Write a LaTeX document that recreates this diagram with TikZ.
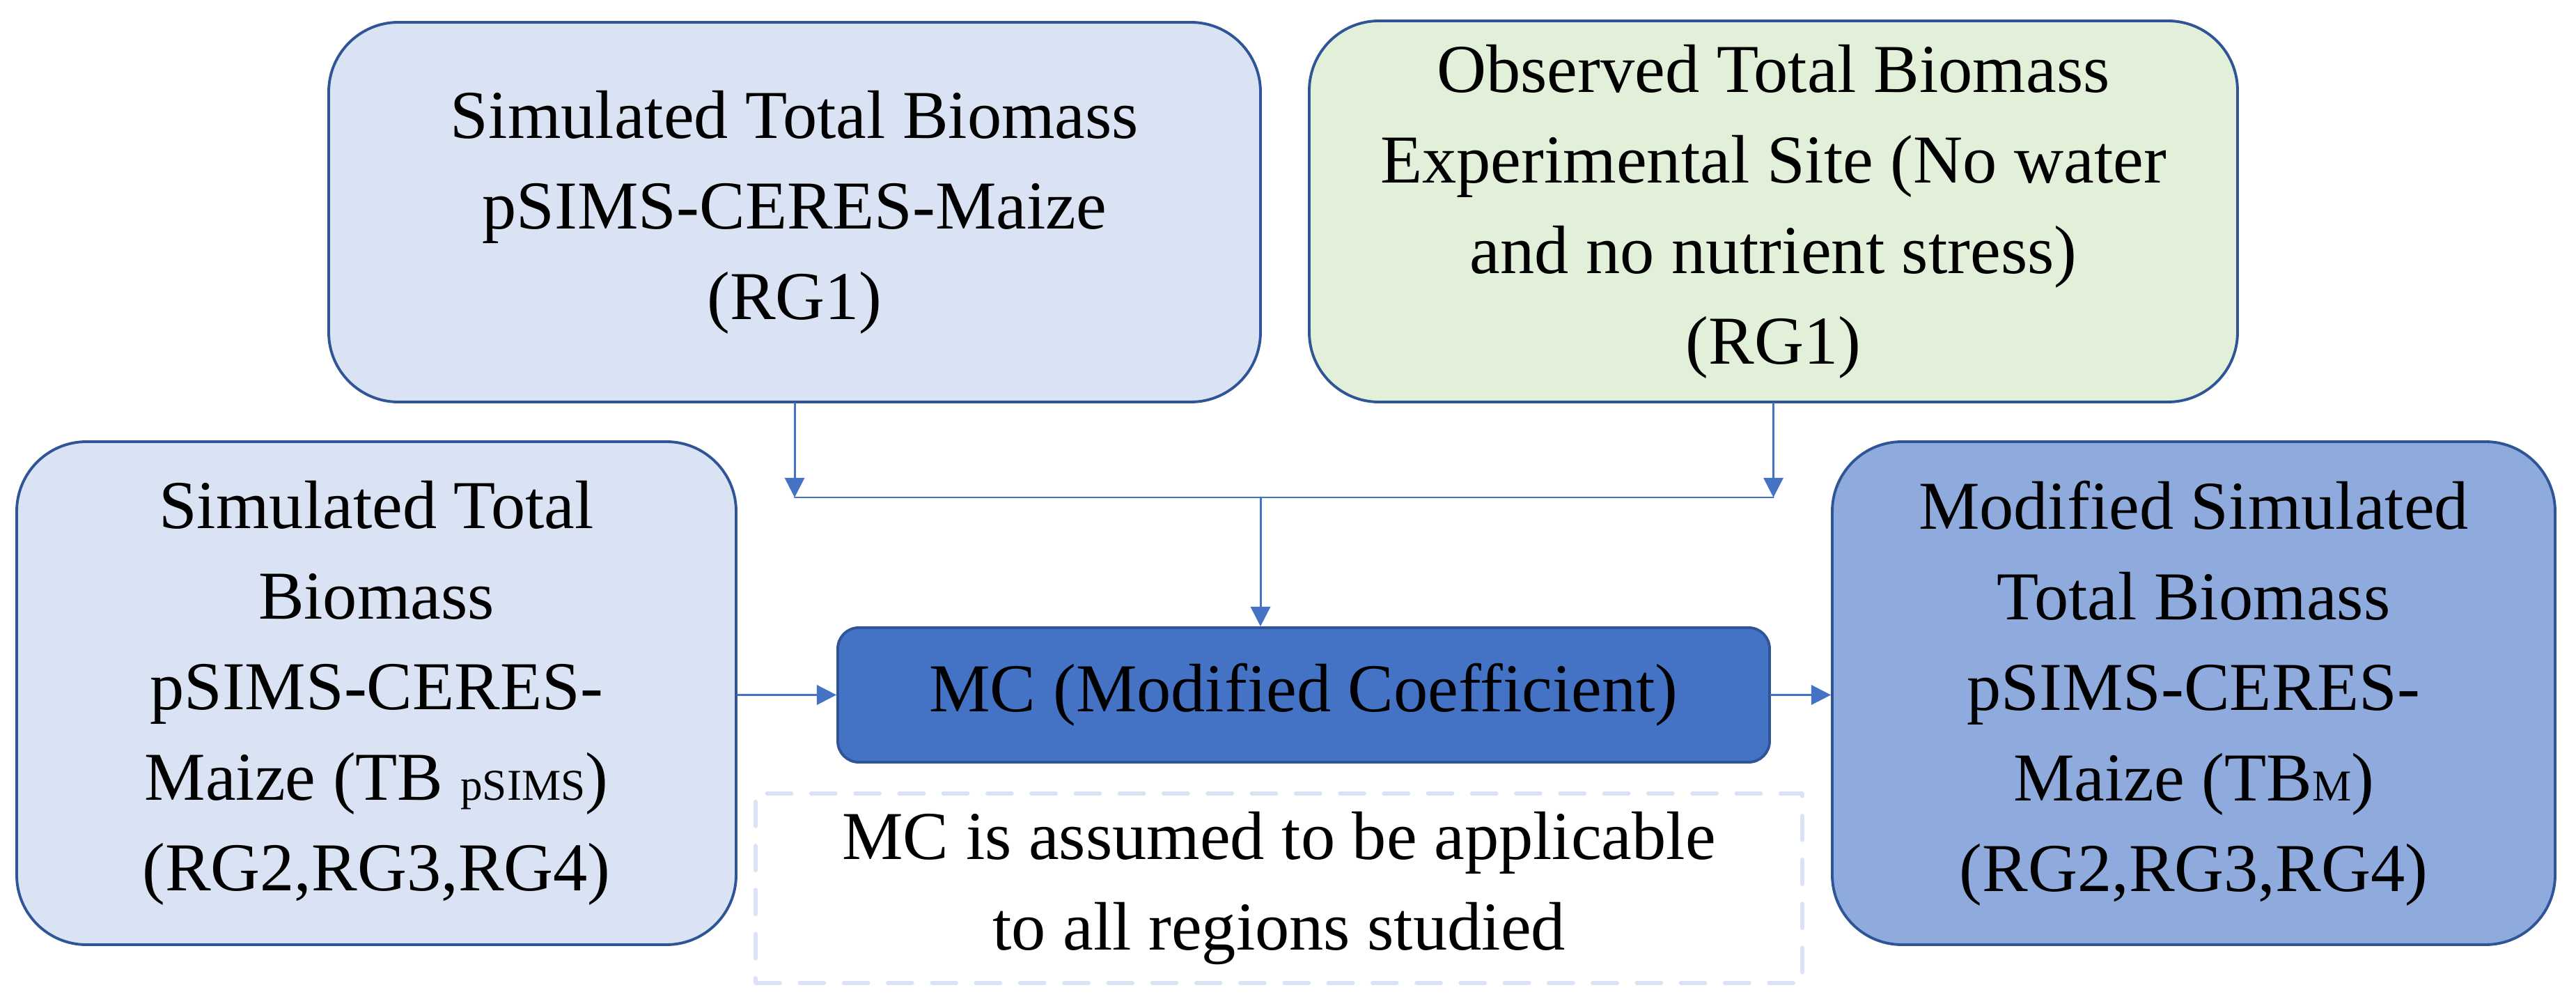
\documentclass[tikz,border=0pt]{standalone}
\usepackage{fontspec}
\setmainfont{Liberation Serif}
\usetikzlibrary{arrows.meta}
\definecolor{edgeblue}{HTML}{2F5597}
\definecolor{lineblue}{HTML}{4472C4}
\definecolor{paleblue}{HTML}{DAE3F3}
\definecolor{palegreen}{HTML}{E2F0D9}
\definecolor{midblue}{HTML}{8FAADC}
\tikzset{
	box/.style={draw=edgeblue,line width=1.1pt,rounded corners=1cm,align=center,inner sep=0pt,
		font=\fontsize{28}{37}\selectfont},
	conn/.style={draw=lineblue,line width=0.85pt},
	arr/.style={conn,-{Triangle[width=8pt,length=8pt]}}
}
\newcommand{\sm}[1]{{\fontsize{18}{18}\selectfont #1}}

\begin{document}
\begin{tikzpicture}[line cap=round,line join=round,x=1cm,y=1cm]
		\useasboundingbox (0,0) rectangle (36.99,-14.44);
		\node[box,fill=paleblue,minimum width=13.38cm,minimum height=5.45cm] (simrg) at (11.41,-3.045)
			{Simulated Total Biomass\\pSIMS-CERES-Maize\\(RG1)};
		\node[box,fill=palegreen,minimum width=13.33cm,minimum height=5.47cm] (obsrg) at (25.465,-3.035)
			{Observed Total Biomass\\Experimental Site (No water\\and no nutrient stress)\\(RG1)};
		\node[box,fill=paleblue,minimum width=10.33cm,minimum height=7.22cm] (simall) at (5.405,-9.95)
			{Simulated Total\\Biomass\\pSIMS-CERES-\\Maize (TB \sm{pSIMS})\\(RG2,RG3,RG4)};
		\node[box,fill=midblue,minimum width=10.38cm,minimum height=7.22cm] (modall) at (31.5,-9.95)
			{Modified Simulated\\Total Biomass\\pSIMS-CERES-\\Maize (TB\sm{M})\\(RG2,RG3,RG4)};
		\node[box,fill=lineblue,rounded corners=0.3cm,minimum width=13.38cm,minimum height=1.93cm] (mc) at (18.72,-9.975)
			{MC (Modified Coefficient)};
		\node[box,draw=paleblue,line width=1.6pt,dash pattern=on 10pt off 8pt,rounded corners=0pt,
			minimum width=15.03cm,minimum height=2.72cm] (note) at (18.365,-12.75)
			{MC is assumed to be applicable\\to all regions studied};
		\coordinate (jl) at (simrg.south |- 0,-7.14);
		\coordinate (jr) at (obsrg.south |- jl);
		\coordinate (jm) at (18.10,-7.14);
		\draw[arr] (simrg.south) -- (jl);
		\draw[arr] (obsrg.south) -- (jr);
		\draw[conn] (jl) -- (jr);
		\draw[arr] (jm) -- (jm |- mc.north);
		\draw[arr] (simall.east |- mc) -- (mc.west);
		\draw[arr] (mc.east) -- (modall.west |- mc);
	\end{tikzpicture}
\end{document}
